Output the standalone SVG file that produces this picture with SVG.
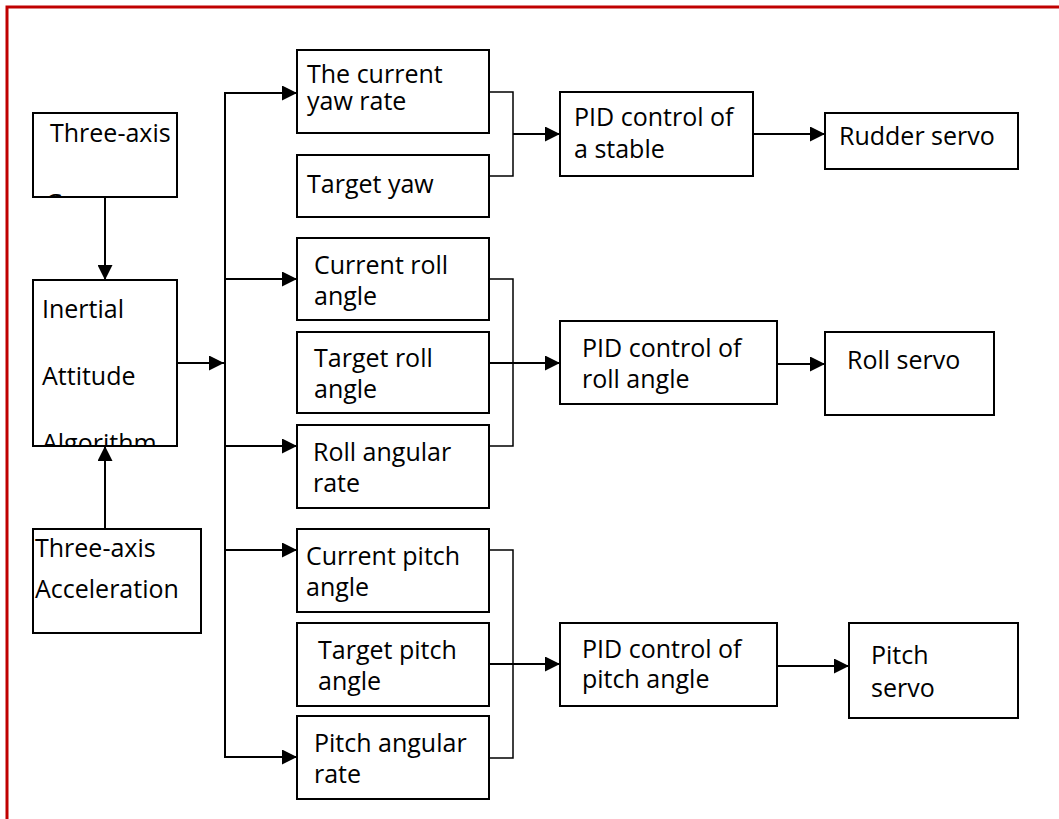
<svg xmlns="http://www.w3.org/2000/svg" width="1059" height="819" viewBox="0 0 1059 819">
<style>
.b{fill:#fff;stroke:#000;stroke-width:2}
.t{font-family:"Open Sans","Noto Sans",sans-serif;font-size:25px;fill:#000}
.c{fill:none;stroke:#000;stroke-width:2}
.k{fill:none;stroke:#000;stroke-width:1.5}
</style>
<defs>
<marker id="ah" markerWidth="15" markerHeight="15" refX="15" refY="7.5" orient="auto" markerUnits="userSpaceOnUse"><path d="M0,0 L15,7.5 L0,15 z" fill="#000"/></marker>
<clipPath id="cg"><rect x="33" y="113" width="144" height="84"/></clipPath>
<clipPath id="ci"><rect x="33" y="280" width="144" height="166"/></clipPath>
</defs>
<rect width="1059" height="819" fill="#fff"/>
<rect x="7" y="7" width="1100" height="900" fill="none" stroke="#c00000" stroke-width="3"/>

<g id="connectors">
<line class="c" x1="105" y1="197" x2="105" y2="280" marker-end="url(#ah)"/>
<line class="c" x1="105" y1="529" x2="105" y2="446" marker-end="url(#ah)"/>
<line class="c" x1="177" y1="363" x2="224" y2="363" marker-end="url(#ah)"/>
<line class="c" x1="225" y1="92" x2="225" y2="758"/>
<line class="c" x1="224" y1="93" x2="297" y2="93" marker-end="url(#ah)"/>
<line class="c" x1="224" y1="279" x2="297" y2="279" marker-end="url(#ah)"/>
<line class="c" x1="224" y1="446" x2="297" y2="446" marker-end="url(#ah)"/>
<line class="c" x1="224" y1="550" x2="297" y2="550" marker-end="url(#ah)"/>
<line class="c" x1="224" y1="757" x2="297" y2="757" marker-end="url(#ah)"/>
<path class="k" d="M489,92 H513 V176 H489"/>
<line class="c" x1="513" y1="134" x2="560" y2="134" marker-end="url(#ah)"/>
<path class="k" d="M489,279 H513 V446 H489"/>
<line class="c" x1="489" y1="363" x2="560" y2="363" marker-end="url(#ah)"/>
<path class="k" d="M489,550 H513 V758 H489"/>
<line class="c" x1="489" y1="664" x2="560" y2="664" marker-end="url(#ah)"/>
<line class="c" x1="753" y1="134" x2="825" y2="134" marker-end="url(#ah)"/>
<line class="c" x1="777" y1="364" x2="825" y2="364" marker-end="url(#ah)"/>
<line class="c" x1="777" y1="666" x2="849" y2="666" marker-end="url(#ah)"/>
</g>

<g id="gyro">
<rect class="b" x="33" y="113" width="144" height="84"/>
<g clip-path="url(#cg)"><text class="t" x="50" y="142">Three-axis</text><text class="t" x="45" y="212">Gyroscope</text></g>
</g>
<g id="inertial">
<rect class="b" x="33" y="280" width="144" height="166"/>
<g clip-path="url(#ci)"><text class="t" x="42" y="318">Inertial</text><text class="t" x="42" y="385">Attitude</text><text class="t" x="42" y="452">Algorithm</text></g>
</g>
<g id="accel">
<rect class="b" x="33" y="529" width="168" height="104"/>
<text class="t" x="35" y="557">Three-axis</text><text class="t" x="35" y="598">Acceleration</text>
</g>

<g id="yawrate"><rect class="b" x="297" y="50" width="192" height="83"/><text class="t" x="307" y="83">The current</text><text class="t" x="307" y="110">yaw rate</text></g>
<g id="targetyaw"><rect class="b" x="297" y="155" width="192" height="62"/><text class="t" x="307" y="193">Target yaw</text></g>
<g id="curroll"><rect class="b" x="297" y="238" width="192" height="82"/><text class="t" x="314" y="274">Current roll</text><text class="t" x="314" y="305">angle</text></g>
<g id="targetroll"><rect class="b" x="297" y="332" width="192" height="81"/><text class="t" x="314" y="367">Target roll</text><text class="t" x="314" y="398">angle</text></g>
<g id="rollrate"><rect class="b" x="297" y="425" width="192" height="83"/><text class="t" x="313" y="461">Roll angular</text><text class="t" x="313" y="492">rate</text></g>
<g id="curpitch"><rect class="b" x="297" y="529" width="192" height="83"/><text class="t" x="306" y="565">Current pitch</text><text class="t" x="306" y="596">angle</text></g>
<g id="targetpitch"><rect class="b" x="297" y="623" width="192" height="83"/><text class="t" x="318" y="659">Target pitch</text><text class="t" x="318" y="690">angle</text></g>
<g id="pitchrate"><rect class="b" x="297" y="716" width="192" height="83"/><text class="t" x="314" y="752">Pitch angular</text><text class="t" x="314" y="783">rate</text></g>

<g id="pidyaw"><rect class="b" x="560" y="92" width="193" height="84"/><text class="t" x="574" y="126">PID control of</text><text class="t" x="574" y="158">a stable</text></g>
<g id="pidroll"><rect class="b" x="560" y="321" width="217" height="83"/><text class="t" x="582" y="357">PID control of</text><text class="t" x="582" y="388">roll angle</text></g>
<g id="pidpitch"><rect class="b" x="560" y="623" width="217" height="83"/><text class="t" x="582" y="658">PID control of</text><text class="t" x="582" y="688">pitch angle</text></g>

<g id="rudder"><rect class="b" x="825" y="113" width="193" height="56"/><text class="t" x="839" y="145">Rudder servo</text></g>
<g id="rollservo"><rect class="b" x="825" y="332" width="169" height="83"/><text class="t" x="847" y="369">Roll servo</text></g>
<g id="pitchservo"><rect class="b" x="849" y="623" width="169" height="95"/><text class="t" x="871" y="664">Pitch</text><text class="t" x="871" y="697">servo</text></g>
</svg>
